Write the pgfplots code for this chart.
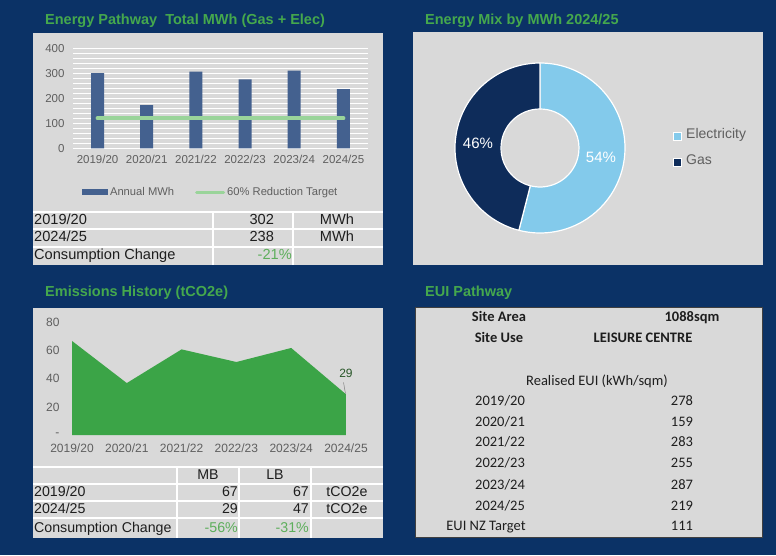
\documentclass[border=0pt]{standalone}
\usepackage{fontspec}
\setmainfont{Liberation Sans}
\newfontfamily\calibri{Carlito}
\usepackage{pgfplots}
\pgfplotsset{compat=1.18}
\definecolor{navybg}{HTML}{0B3266}
\definecolor{panel}{HTML}{D9D9D9}
\definecolor{ttl}{HTML}{45A84D}
\definecolor{barc}{HTML}{44618F}
\definecolor{tgt}{HTML}{9AD49A}
\definecolor{tick}{HTML}{5F5F5F}
\definecolor{areac}{HTML}{3BA447}
\definecolor{elec}{HTML}{83CAEB}
\definecolor{gasc}{HTML}{0E2C5A}
\definecolor{pct}{HTML}{5DAE5B}
\definecolor{txt}{HTML}{1E1E1E}
\newcommand{\tfont}{\fontsize{14.6}{16}\selectfont}
\newcommand{\sfont}{\fontsize{14.2}{16}\selectfont}
\newcommand{\efont}{\calibri\fontsize{14.5}{16}\selectfont}
\begin{document}
\begin{tikzpicture}[x=1pt,y=1pt]
\useasboundingbox (0,0) rectangle (776,555);
\fill[navybg] (0,0) rectangle (776,555);
% panels
\fill[panel] (33,290) rectangle (383,522);
\fill[panel] (413,290) rectangle (763,523);
\fill[panel] (33,17) rectangle (383,247);
\fill[panel,draw=black!75,line width=0.8pt] (415,18) rectangle (762,248);
% titles
\begin{scope}[every node/.style={anchor=west, text=ttl, font=\fontsize{14.5}{16}\bfseries\selectfont, inner sep=0pt}]
\node at (45,534) {Energy Pathway\ \ Total MWh (Gas + Elec)};
\node at (425,534) {Energy Mix by MWh 2024/25};
\node at (45,262) {Emissions History (tCO2e)};
\node at (425,262) {EUI Pathway};
\end{scope}

% ---------- Bar chart ----------
\begin{axis}[at={(73pt,406.7pt)}, anchor=south west, scale only axis,
  width=295pt, height=99.6pt,
  xmin=-0.5, xmax=5.5, ymin=0, ymax=400,
  xtick={0,...,5}, xticklabels={2019/20,2020/21,2021/22,2022/23,2023/24,2024/25},
  ytick={0,100,...,400}, minor y tick num=4,
  ymajorgrids, yminorgrids,
  major grid style={white, line width=0.8pt},
  minor grid style={white, line width=0.6pt},
  axis line style={draw=none},
  major tick length=0pt, minor tick length=0pt,
  tick label style={font=\fontsize{11.5}{12}\selectfont, text=tick},
  /pgf/number format/assume math mode=true,
  yticklabel style={xshift=-5pt},
  xticklabel style={yshift=-3pt},
  legend style={at={(0.03,-0.44)}, anchor=west, draw=none, fill=none,
    font=\fontsize{11.2}{12}\selectfont, text=tick, inner sep=0pt,
    /tikz/every even column/.append style={column sep=19pt}},
  legend columns=2,
]
\addplot[ybar, bar width=13pt, fill=barc, draw=none,
  legend image code/.code={\fill[barc] (0pt,-3pt) rectangle (26pt,3pt);}]
  coordinates {(0,302) (1,173) (2,308) (3,277) (4,312) (5,238)};
\addlegendentry{Annual MWh}
\addplot[tgt, line width=4pt, line cap=round,
  legend image code/.code={\draw[tgt, line width=3pt] (0pt,0pt) -- (27pt,0pt);}]
  coordinates {(0,121) (5,121)};
\addlegendentry{60\% Reduction Target}
\end{axis}

% energy table
\draw[white, line width=1.2pt] (33,343) -- (383,343) (33,326) -- (383,326) (33,308) -- (383,308)
  (213,343) -- (213,290) (293,343) -- (293,290);
\begin{scope}[every node/.style={font=\tfont, text=txt, inner sep=0pt}]
\node[anchor=mid west] at (34,333.5) {2019/20};
\node[anchor=mid] at (261.7,333.5) {302};
\node[anchor=mid] at (337,333.5) {MWh};
\node[anchor=mid west] at (34,316.5) {2024/25};
\node[anchor=mid] at (261.7,316.5) {238};
\node[anchor=mid] at (337,316.5) {MWh};
\node[anchor=mid west] at (34,298) {Consumption Change};
\node[anchor=mid east, text=pct] at (292,298) {-21\%};
\end{scope}

% ---------- Donut ----------
\begin{scope}[shift={(540,407)}]
\filldraw[fill=elec, draw=white, line width=1.2pt] (90:85) arc[start angle=90, end angle=-104.4, radius=85]
  -- (-104.4:39) arc[start angle=-104.4, end angle=90, radius=39] -- cycle;
\filldraw[fill=gasc, draw=white, line width=1.2pt] (-104.4:85) arc[start angle=-104.4, end angle=-270, radius=85]
  -- (-270:39) arc[start angle=-270, end angle=-104.4, radius=39] -- cycle;
\end{scope}
\node[text=white, font=\fontsize{15}{16}\selectfont] at (601,398) {54\%};
\node[text=white, font=\fontsize{15}{16}\selectfont] at (478,412) {46\%};
\filldraw[fill=elec, draw=white, line width=0.6pt] (673.5,415) rectangle (681.5,423);
\filldraw[fill=gasc, draw=white, line width=0.6pt] (673.5,389) rectangle (681.5,397);
\node[anchor=mid west, inner sep=0pt, text=tick, font=\fontsize{14}{16}\selectfont] at (686,419) {Electricity};
\node[anchor=mid west, inner sep=0pt, text=tick, font=\fontsize{14}{16}\selectfont] at (686,393) {Gas};

% ---------- Area chart ----------
\begin{axis}[at={(72pt,120pt)}, anchor=south west, scale only axis,
  width=274pt, height=112.3pt,
  xmin=0, xmax=5, ymin=0, ymax=80,
  xtick={0,...,5}, xticklabels={2019/20,2020/21,2021/22,2022/23,2023/24,2024/25},
  ytick={0,20,...,80}, yticklabels={-,20,40,60,80},
  axis line style={draw=none},
  major tick length=0pt,
  tick label style={font=\fontsize{12}{13}\selectfont, text=tick},
  /pgf/number format/assume math mode=true,
  yticklabel style={xshift=-9pt},
  xticklabel style={yshift=-5pt},
  clip=false,
]
\addplot[fill=areac, draw=none] coordinates {(0,67) (1,37) (2,61) (3,52) (4,62) (5,29)} \closedcycle;
\draw[tick!80, line width=0.5pt] (axis cs:4.99,29.5) -- (axis cs:4.955,37.5);
\node[text=tick!70!green!60!black, font=\fontsize{12}{13}\selectfont] at (axis cs:5,44.2) {29};
\end{axis}

% emissions table
\draw[white, line width=1.2pt] (33,88) -- (383,88) (33,71) -- (383,71) (33,54) -- (383,54) (33,37) -- (383,37)
  (177,88) -- (177,17) (239,88) -- (239,17) (311,88) -- (311,17);
\begin{scope}[every node/.style={font=\sfont, text=txt, inner sep=0pt}]
\node[anchor=mid] at (208,78.5) {MB};
\node[anchor=mid] at (275,78.5) {LB};
\node[anchor=mid west] at (34,61.5) {2019/20};
\node[anchor=mid east] at (238,61.5) {67};
\node[anchor=mid east] at (309,61.5) {67};
\node[anchor=mid] at (347,61.5) {tCO2e};
\node[anchor=mid west] at (34,44.5) {2024/25};
\node[anchor=mid east] at (238,44.5) {29};
\node[anchor=mid east] at (309,44.5) {47};
\node[anchor=mid] at (347,44.5) {tCO2e};
\node[anchor=mid west] at (34,25) {Consumption Change};
\node[anchor=mid east, text=pct] at (238,25) {-56\%};
\node[anchor=mid east, text=pct] at (309,25) {-31\%};
\end{scope}

% ---------- EUI panel ----------
\begin{scope}[every node/.style={font=\efont, text=txt, inner sep=0pt, anchor=mid}]
\node[font=\efont\bfseries] at (499,235.7) {Site Area};
\node[font=\efont\bfseries] at (692,235.7) {1088sqm};
\node[font=\efont\bfseries] at (499,215) {Site Use};
\node[font=\efont\bfseries] at (643,215) {LEISURE CENTRE};
\node at (597,171.7) {Realised EUI (kWh/sqm)};
\node at (500,151.7) {2019/20};  \node at (682,151.7) {278};
\node at (500,131) {2020/21};    \node at (682,131) {159};
\node at (500,110.7) {2021/22};  \node at (682,110.7) {283};
\node at (500,90) {2022/23};     \node at (682,90) {255};
\node at (500,68.3) {2023/24};   \node at (682,68.3) {287};
\node at (500,46.7) {2024/25};   \node at (682,46.7) {219};
\node at (486,26.7) {EUI NZ Target}; \node at (682,26.7) {111};
\end{scope}
\end{tikzpicture}
\end{document}
